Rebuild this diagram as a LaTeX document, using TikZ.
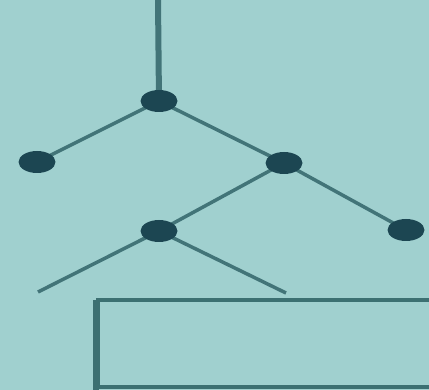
\documentclass[tikz,border=0pt]{standalone}
\usetikzlibrary{shapes.geometric}
\begin{document}
\begin{tikzpicture}[x=1pt,y=-1pt,
  bg/.style={fill={rgb,255:red,160;green,208;blue,207}},
  edge/.style={draw={rgb,255:red,66;green,116;blue,120},line width=3.5pt},
  knot/.style={ellipse,fill={rgb,255:red,28;green,70;blue,82},minimum width=37pt,minimum height=22pt,inner sep=0pt},
  frame/.style={draw={rgb,255:red,60;green,112;blue,114},line width=3.5pt}]
\useasboundingbox (0,0) rectangle (429,390);
\fill[bg] (0,0) rectangle (429,390);
\coordinate (top) at (158,0);
\coordinate (l1) at (38,292);
\coordinate (l2) at (286,293);
\coordinate (a) at (159,101);
\coordinate (b) at (37,162);
\coordinate (c) at (284,163);
\coordinate (d) at (159,231);
\coordinate (e) at (406,230);
\draw[edge,line width=6pt] (top) -- (a);
\draw[edge] (a) -- (b);
\draw[edge] (a) -- (c);
\draw[edge] (c) -- (e);
\draw[edge] (c) -- (d);
\draw[edge] (d) -- (l1);
\draw[edge] (d) -- (l2);
\node[knot] (na) at (a) {};
\node[knot] (nb) at (b) {};
\node[knot] (nc) at (c) {};
\node[knot] (nd) at (d) {};
\node[knot] (ne) at (e) {};
\draw[frame] (440,300) -- (98,300) -- (98,387) -- (440,387);
\draw[frame,line width=6pt] (96,300) -- (96,390);
\end{tikzpicture}
\end{document}
